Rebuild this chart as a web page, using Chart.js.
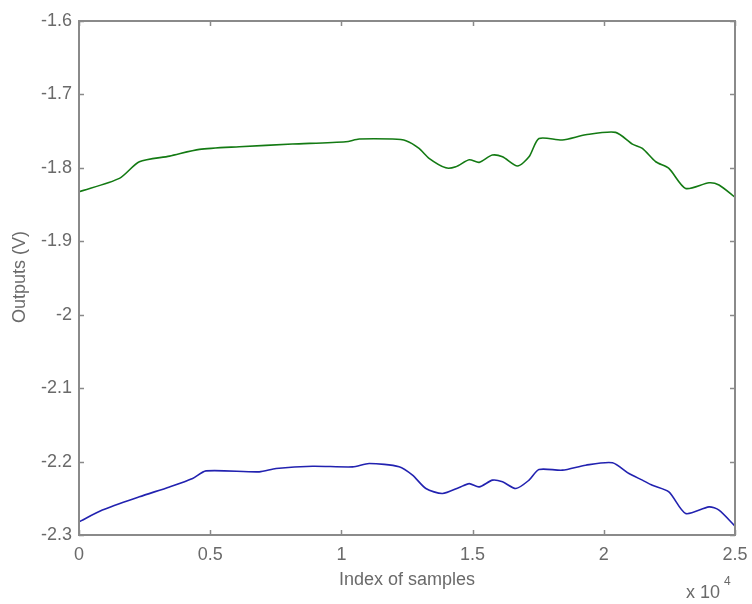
<!DOCTYPE html>
<html>
<head>
<meta charset="utf-8">
<script src="https://cdn.jsdelivr.net/npm/chart.js@4"></script>
<style>
  html, body { margin: 0; padding: 0; background: #fff; }
  #wrap { width: 752px; height: 604px; }
</style>
</head>
<body>
<div id="wrap"><canvas id="c" width="752" height="604"></canvas></div>
<script>
// ── Data ──────────────────────────────────────────────────
const greenIdx = [0, 1540, 2300, 3450, 4590, 6110, 8130, 10170, 10680, 11950, 12460,
  12960, 13340, 13980, 14360, 14870, 15250, 15750, 16140, 16710, 17150, 17530,
  18420, 19310, 20450, 21090, 21470, 21980, 22480, 23120, 24010, 24390, 25000];
const greenVals = [-1.8326, -1.8143, -1.7917, -1.784, -1.7748, -1.7712, -1.7676, -1.7644, -1.7608, -1.7608, -1.763,
  -1.7735, -1.787, -1.800, -1.7985, -1.789, -1.7925, -1.7826, -1.785, -1.7975, -1.785, -1.760,
  -1.762, -1.755, -1.7517, -1.7676, -1.7735, -1.7917, -1.8007, -1.828, -1.8203, -1.8234, -1.840];

const blueIdx = [0, 890, 2300, 3450, 4330, 4840, 6870, 7510, 8900, 10430, 11060, 12200,
  12710, 13220, 13850, 14490, 14870, 15250, 15760, 16140, 16650, 17150, 17530,
  18420, 19310, 20330, 20960, 21470, 21850, 22480, 23120, 24010, 24390, 25000];
const blueVals = [-2.2821, -2.266, -2.248, -2.2345, -2.223, -2.2127, -2.214, -2.2095, -2.2063, -2.2072, -2.2026, -2.207,
  -2.2185, -2.2367, -2.2435, -2.2353, -2.230, -2.2345, -2.2253, -2.2276, -2.2367, -2.2253, -2.2108,
  -2.2117, -2.2049, -2.2017, -2.2163, -2.2253, -2.2322, -2.2413, -2.2707, -2.2617, -2.2662, -2.2880];

const xMin = 0, xMax = 25000, xStep = 5000;
const yMin = -2.3, yMax = -1.6, yStep = 0.1;

const xTitle = "Index of samples";
const yTitle = "Outputs (V)";

// ── Styling ───────────────────────────────────────────────
const FONT = "Liberation Sans, Arial, sans-serif";
const TEXT = "#6a6a6a";
const FRAME = "#8a8a8a";

function toPoints(xs, ys) {
  return xs.map((x, i) => ({ x: x, y: ys[i] }));
}

// frame, inward ticks and titles (MATLAB look)
const matlabAxes = {
  id: "matlabAxes",
  afterDraw(chart) {
    const { ctx, chartArea: a, scales } = chart;
    const tl = 5;
    ctx.save();
    ctx.strokeStyle = FRAME;
    ctx.lineWidth = 2;
    ctx.strokeRect(a.left, a.top, a.right - a.left, a.bottom - a.top);

    ctx.lineWidth = 1.5;
    ctx.beginPath();
    scales.x.ticks.forEach(t => {
      const px = Math.round(scales.x.getPixelForValue(t.value)) + 0.5;
      ctx.moveTo(px, a.bottom); ctx.lineTo(px, a.bottom - tl);
      ctx.moveTo(px, a.top);    ctx.lineTo(px, a.top + tl);
    });
    scales.y.ticks.forEach(t => {
      const py = Math.round(scales.y.getPixelForValue(t.value)) + 0.5;
      ctx.moveTo(a.left, py);  ctx.lineTo(a.left + tl, py);
      ctx.moveTo(a.right, py); ctx.lineTo(a.right - tl, py);
    });
    ctx.stroke();

    ctx.fillStyle = TEXT;
    ctx.font = "18px " + FONT;
    ctx.textAlign = "center";
    ctx.textBaseline = "middle";
    ctx.fillText(xTitle, (a.left + a.right) / 2, 580);

    ctx.save();
    ctx.translate(20, 277);
    ctx.rotate(-Math.PI / 2);
    ctx.fillText(yTitle, 0, 0);
    ctx.restore();

    // exponent label
    ctx.textAlign = "left";
    ctx.textBaseline = "alphabetic";
    ctx.font = "18px " + FONT;
    ctx.fillText("x 10", 686, 598);
    ctx.font = "12px " + FONT;
    ctx.fillText("4", 724, 585);
    ctx.restore();
  }
};

new Chart(document.getElementById("c"), {
  type: "line",
  data: {
    datasets: [
      {
        label: "upper",
        data: toPoints(greenIdx, greenVals),
        borderColor: "#137a13",
        borderWidth: 1.6,
        pointRadius: 0,
        tension: 0.25,
        fill: false
      },
      {
        label: "lower",
        data: toPoints(blueIdx, blueVals),
        borderColor: "#2222b0",
        borderWidth: 1.6,
        pointRadius: 0,
        tension: 0.25,
        fill: false
      }
    ]
  },
  options: {
    responsive: false,
    animation: false,
    layout: { padding: { left: 0, right: 17, top: 21, bottom: 0 } },
    plugins: { legend: { display: false }, tooltip: { enabled: false } },
    scales: {
      x: {
        type: "linear",
        min: xMin, max: xMax,
        afterFit: (s) => { s.height = 69; s.paddingLeft = 0; s.paddingRight = 0; },
        grid: { display: false, drawTicks: false },
        border: { display: false },
        ticks: {
          stepSize: xStep,
          padding: 9,
          color: TEXT,
          font: { family: FONT, size: 18 },
          maxRotation: 0,
          callback: (v) => String(parseFloat((v / 1e4).toFixed(2)))
        }
      },
      y: {
        type: "linear",
        min: yMin, max: yMax,
        afterFit: (s) => { s.width = 79; s.paddingTop = 0; s.paddingBottom = 0; },
        grid: { display: false, drawTicks: false },
        border: { display: false },
        ticks: {
          stepSize: yStep,
          padding: 7,
          color: TEXT,
          font: { family: FONT, size: 18 },
          callback: (v) => String(parseFloat(v.toFixed(1)))
        }
      }
    }
  },
  plugins: [matlabAxes]
});
</script>
</body>
</html>
